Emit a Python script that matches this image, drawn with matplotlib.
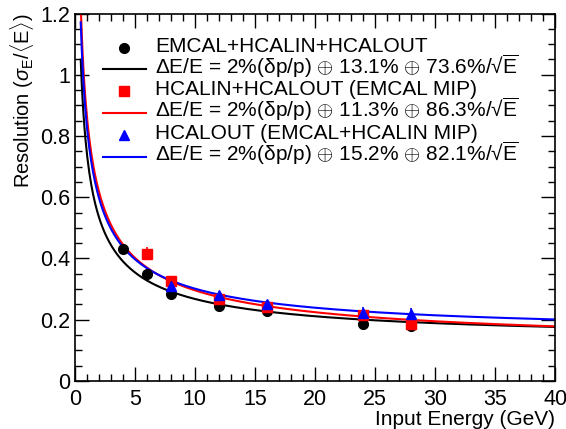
import numpy as np
import matplotlib
matplotlib.use("Agg")
import matplotlib.pyplot as plt
from matplotlib.lines import Line2D
from matplotlib.ticker import MultipleLocator

plt.rcParams['font.family'] = ['Liberation Sans', 'DejaVu Sans']
plt.rcParams['mathtext.fontset'] = 'custom'
plt.rcParams['mathtext.rm'] = 'Liberation Sans'
plt.rcParams['mathtext.it'] = 'Liberation Sans:italic'
plt.rcParams['mathtext.sf'] = 'Liberation Sans'

# measured points
e_all = [4, 6, 8, 12, 16, 24, 28]
res_all = [0.431, 0.350, 0.284, 0.246, 0.230, 0.187, 0.181]
err_all = [0.006, 0.006, 0.006, 0.006, 0.006, 0.006, 0.006]

e_hcal = [6, 8, 12, 16, 24, 28]
res_hcal = [0.416, 0.325, 0.267, 0.241, 0.217, 0.186]
err_hcal = [0.022, 0.010, 0.010, 0.010, 0.012, 0.012]

e_out = [8, 12, 16, 24, 28]
res_out = [0.310, 0.280, 0.252, 0.222, 0.218]
err_out = [0.012, 0.012, 0.012, 0.020, 0.020]

# fit parameters: tracking term, constant, stochastic
track = 0.02
const_all, stoch_all = 0.131, 0.736
const_hcal, stoch_hcal = 0.113, 0.863
const_out, stoch_out = 0.152, 0.821

def reso(E, a, b):
    return np.sqrt(track**2 + a**2 + b**2 / E)

fig = plt.figure(figsize=(5.66, 4.29), dpi=100)
ax = fig.add_axes([0.132, 0.112, 0.849, 0.8565])

E = np.linspace(0.5, 40, 500)
ax.plot(E, reso(E, const_all, stoch_all), color='black', lw=1.5)
ax.plot(E, reso(E, const_hcal, stoch_hcal), color='red', lw=1.5)
ax.plot(E, reso(E, const_out, stoch_out), color='blue', lw=1.5)

ax.errorbar(e_all, res_all, yerr=err_all, fmt='o', color='black', ms=7, elinewidth=1.2, capsize=0)
ax.errorbar(e_hcal, res_hcal, yerr=err_hcal, fmt='s', color='red', ms=7, elinewidth=1.2, capsize=0)
ax.errorbar(e_out, res_out, yerr=err_out, fmt='^', color='blue', ms=7.5, elinewidth=1.2, capsize=0)

ax.set_xlim(0, 40)
ax.set_ylim(0, 1.2)
ax.xaxis.set_major_locator(MultipleLocator(5))
ax.xaxis.set_minor_locator(MultipleLocator(1))
ax.yaxis.set_major_locator(MultipleLocator(0.2))
ax.yaxis.set_minor_locator(MultipleLocator(0.05))
ax.tick_params(which='both', direction='in', top=True, right=True, width=1, labelsize=15.5)
ax.tick_params(which='major', length=10)
ax.tick_params(which='minor', length=5)
ax.tick_params(axis='x', pad=6)
ax.set_yticks([0, 0.2, 0.4, 0.6, 0.8, 1.0, 1.2])
ax.set_yticklabels(['0', '0.2', '0.4', '0.6', '0.8', '1', '1.2'])
for s in ax.spines.values():
    s.set_linewidth(1.2)

ax.set_xlabel('Input Energy (GeV)', loc='right', fontsize=15, labelpad=0)
ax.set_ylabel(r'Resolution ($\sigma_{\mathrm{E}}/\langle\mathrm{E}\rangle$)', loc='top', fontsize=14.5, labelpad=3)

# legend drawn by hand, ROOT TLegend style
labels = [
    'EMCAL+HCALIN+HCALOUT',
    r'ΔE/E = 2%(δp/p) $\oplus$ 13.1% $\oplus$ 73.6%/√$\overline{\mathrm{E}}$',
    'HCALIN+HCALOUT (EMCAL MIP)',
    r'ΔE/E = 2%(δp/p) $\oplus$ 11.3% $\oplus$ 86.3%/√$\overline{\mathrm{E}}$',
    'HCALOUT (EMCAL+HCALIN MIP)',
    r'ΔE/E = 2%(δp/p) $\oplus$ 15.2% $\oplus$ 82.1%/√$\overline{\mathrm{E}}$',
]
styles = [('o', 'black'), ('-', 'black'), ('s', 'red'), ('-', 'red'), ('^', 'blue'), ('-', 'blue')]
base0, dy, hoff = 0.896, 0.0593, 0.011
for i, (lab, (st, col)) in enumerate(zip(labels, styles)):
    yb = base0 - i * dy
    yh = yb + hoff
    if st == '-':
        ax.add_line(Line2D([0.058, 0.148], [yh, yh], transform=ax.transAxes, color=col, lw=1.5))
    else:
        ax.add_line(Line2D([0.103], [yh], transform=ax.transAxes, marker=st, color=col, ms=7, ls='none'))
    ax.text(0.167, yb, lab, transform=ax.transAxes, fontsize=15, va='baseline', ha='left')

fig.savefig('out.png', dpi=100)
